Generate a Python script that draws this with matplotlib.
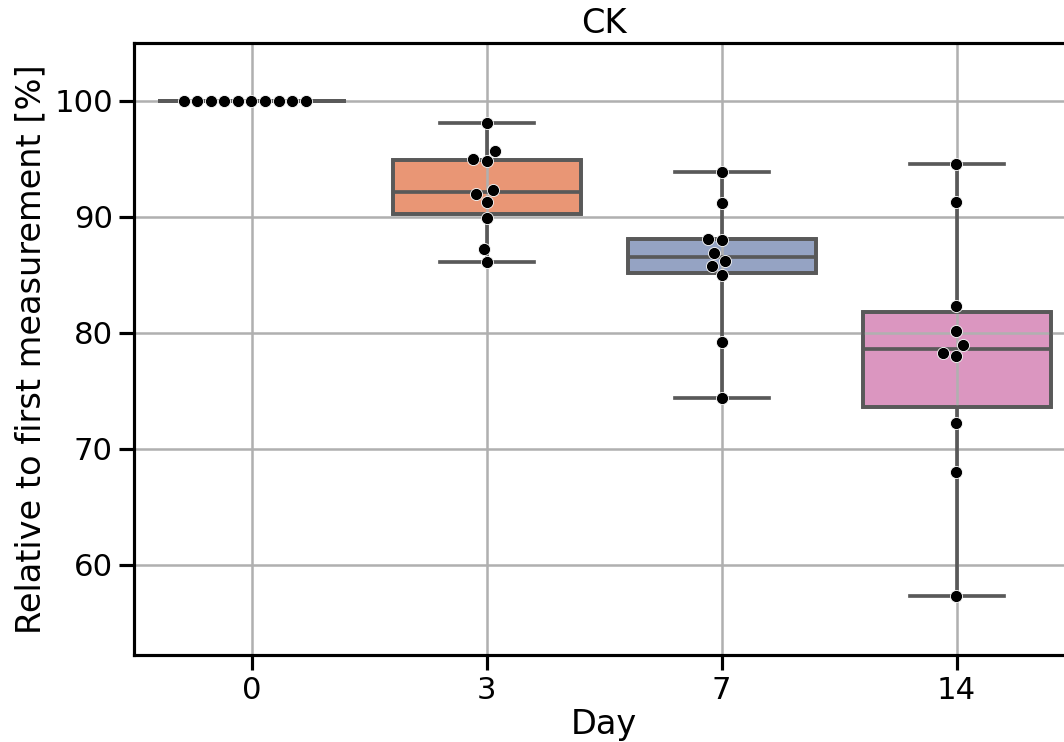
import matplotlib
matplotlib.use("Agg")
import matplotlib.pyplot as plt
from matplotlib.patches import PathPatch
import pandas as pd
import seaborn as sns

# relative values per day, in % of the first measurement
days = ["0", "3", "7", "14"]
day0 = [100.0] * 10
day3 = [98.1, 95.7, 95.0, 94.8, 92.3, 92.0, 91.3, 89.9, 87.2, 86.1]
day7 = [93.9, 91.2, 88.1, 88.0, 86.9, 86.2, 85.8, 85.0, 79.2, 74.4]
day14 = [94.6, 91.3, 82.3, 80.2, 79.0, 78.3, 78.0, 72.2, 68.0, 57.3]

df = pd.DataFrame({
    "Day": [d for d, vals in zip(days, [day0, day3, day7, day14]) for _ in vals],
    "value": day0 + day3 + day7 + day14,
})

sns.set_context("talk", rc={"axes.labelsize": 20, "axes.titlesize": 20,
                            "xtick.labelsize": 18.3, "ytick.labelsize": 18.3})

dpi = 121
fig = plt.figure(figsize=(1064 / dpi, 742 / dpi), dpi=dpi)
ax = fig.add_axes([134 / 1064, 1 - 655 / 742, 940 / 1064, 612 / 742])

sns.boxplot(data=df, x="Day", y="value", hue="Day", order=days, hue_order=days,
            palette="Set2", whis=(0, 100), showfliers=False, linewidth=2.2,
            legend=False, ax=ax)

# faces under the grid, outlines over it
for p in list(ax.patches):
    p.set_zorder(1)
    ax.add_patch(PathPatch(p.get_path(), transform=p.get_transform(), fc="none",
                           ec=p.get_edgecolor(), lw=p.get_linewidth(), zorder=2))

sns.swarmplot(data=df, x="Day", y="value", order=days, color="black", size=7.2,
              edgecolor="white", linewidth=0.5, zorder=3, ax=ax)

ax.grid(True)
ax.set_ylim(52.24, 105.0)
ax.set_xlim(-0.5, 3.5)
ax.set_title("CK")
ax.set_xlabel("Day", labelpad=2)
ax.set_ylabel("Relative to first measurement [%]")

fig.savefig("out.png", dpi=dpi)
